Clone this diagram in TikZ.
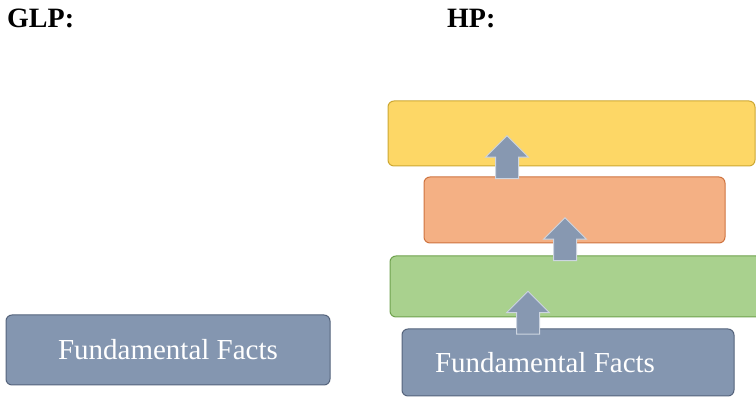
\documentclass[tikz,border=0pt]{standalone}
\usepackage{fontspec}
\setmainfont{Liberation Serif}
\usetikzlibrary{shapes.arrows}
\definecolor{factfill}{HTML}{8496B0}
\definecolor{factedge}{HTML}{55647C}
\definecolor{greenfill}{HTML}{A9D18E}
\definecolor{greenedge}{HTML}{6FA24E}
\definecolor{orangefill}{HTML}{F4B084}
\definecolor{orangeedge}{HTML}{CF7440}
\definecolor{yellowfill}{HTML}{FDD766}
\definecolor{yellowedge}{HTML}{CDA832}
\definecolor{arrowfill}{HTML}{8798B1}
\definecolor{arrowedge}{HTML}{CDD5E1}
\tikzset{
    layer/.style={draw, line width=1pt, rounded corners=6pt, inner sep=0pt},
    facttext/.style={text=white, font=\fontsize{29}{34}\selectfont},
    title/.style={font=\bfseries\fontsize{28}{32}\selectfont, anchor=base west, inner sep=0pt},
    uparrow/.style={single arrow, shape border rotate=90, fill=arrowfill, draw=arrowedge,
        line width=1pt, minimum height=43pt, inner sep=11pt,
        single arrow head extend=10pt, single arrow tip angle=90}
}
\begin{document}
\begin{tikzpicture}[x=1pt,y=1pt]
    \clip (0,0) rectangle (756,398);
    % Titles
    \node[title] (glp) at (7,370) {GLP:};
    \node[title] (hp) at (447,370) {HP:};
    % GLP
    \node[layer, fill=factfill, draw=factedge, facttext, minimum width=324pt, minimum height=70pt] (glpbase) at (168,48) {Fundamental Facts};
    % HP layers
    \node[layer, fill=factfill, draw=factedge, facttext, minimum width=332pt, minimum height=67pt] (hpbase) at (568,35.5) {Fundamental Facts\hspace*{46pt}};
    \node[layer, fill=greenfill, draw=greenedge, minimum width=372pt, minimum height=61pt] (hpgreen) at (576,111.5) {};
    \node[layer, fill=orangefill, draw=orangeedge, minimum width=301pt, minimum height=66pt] (hporange) at (574.5,188) {};
    \node[layer, fill=yellowfill, draw=yellowedge, minimum width=367pt, minimum height=65pt] (hpyellow) at (571.5,264.5) {};
    % Arrows
    \node[uparrow] (up1) at (528,79.5) {};
    \node[uparrow] (up2) at (565,153) {};
    \node[uparrow] (up3) at (507,235) {};
\end{tikzpicture}
\end{document}
